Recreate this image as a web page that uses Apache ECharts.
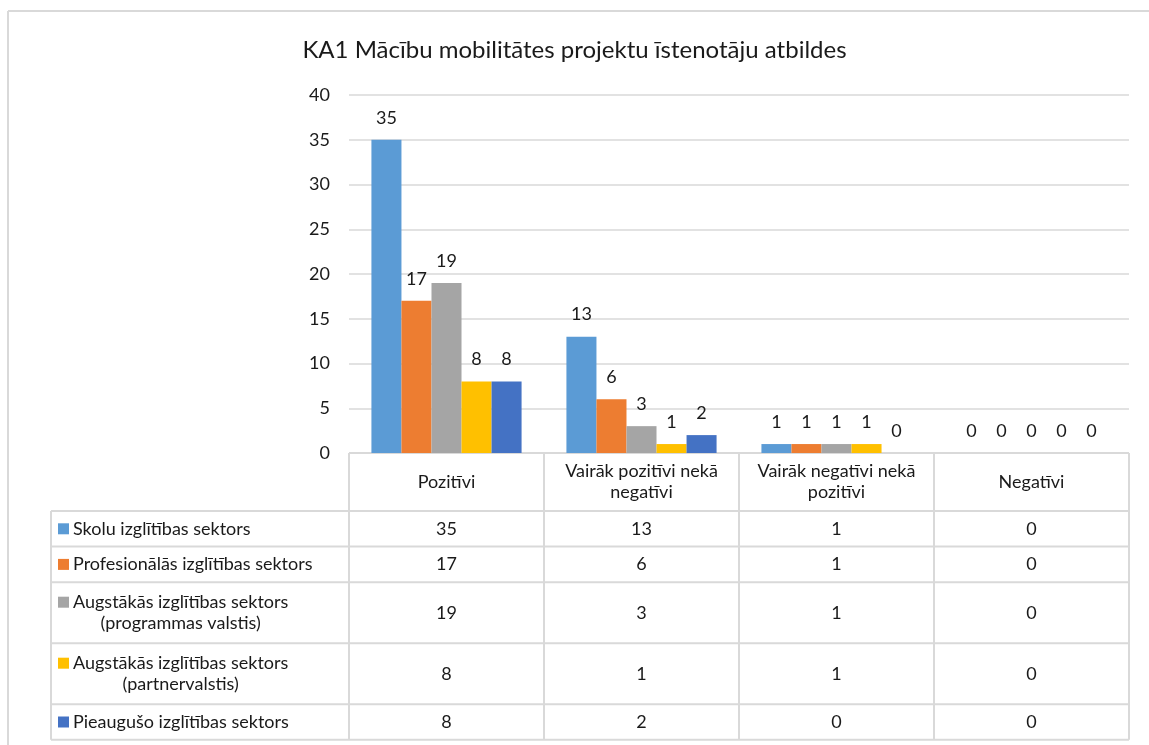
<!DOCTYPE html>
<html>
<head>
<meta charset="utf-8">
<script src="https://cdn.jsdelivr.net/npm/echarts@6/dist/echarts.min.js"></script>
<style>
  html, body { margin: 0; padding: 0; background: #fff; }
  #chart { width: 1149px; height: 745px; }
</style>
</head>
<body>
<div id="chart"></div>
<script>
// data
var categories = ['Pozitīvi', 'Vairāk pozitīvi nekā\nnegatīvi', 'Vairāk negatīvi nekā\npozitīvi', 'Negatīvi'];
var seriesNames = [
  'Skolu izglītības sektors',
  'Profesionālās izglītības sektors',
  'Augstākās izglītības sektors\n(programmas valstis)',
  'Augstākās izglītības sektors\n(partnervalstis)',
  'Pieaugušo izglītības sektors'
];
var skolu = [35, 13, 1, 0];
var profesionalas = [17, 6, 1, 0];
var augstProgr = [19, 3, 1, 0];
var augstPartner = [8, 1, 1, 0];
var pieauguso = [8, 2, 0, 0];
var yTicks = [0, 5, 10, 15, 20, 25, 30, 35, 40];

var colors = ['#5B9BD5', '#ED7D31', '#A5A5A5', '#FFC000', '#4472C4'];
var values = [skolu, profesionalas, augstProgr, augstPartner, pieauguso];

var FONT = 'Lato, "Liberation Sans", sans-serif';
var FS = 18;
var TXT = '#1a1a1a';
var LINE = '#d9d9d9';

// layout
var plotLeft = 349, plotRight = 1129, plotTop = 95, axisY = 453;
var headerBottom = 511, tableLeft = 51;
var rowHeights = seriesNames.map(function (n) { return n.indexOf('\n') >= 0 ? 61 : 35.6; });

var chart = echarts.init(document.getElementById('chart'));

var ctx = document.createElement('canvas').getContext('2d');
ctx.font = FS + 'px ' + FONT;

var graphics = [];
function hline(x1, x2, y) {
  graphics.push({ type: 'line', shape: { x1: x1, y1: y, x2: x2, y2: y }, style: { stroke: LINE, lineWidth: 2 }, silent: true });
}
function vline(x, y1, y2) {
  graphics.push({ type: 'line', shape: { x1: x, y1: y1, x2: x, y2: y2 }, style: { stroke: LINE, lineWidth: 2 }, silent: true });
}

// outer chart border
hline(8, 1149, 11);
vline(8, 11, 745);

var colW = (plotRight - plotLeft) / categories.length;
var rowTops = [headerBottom];
rowHeights.forEach(function (h, i) { rowTops.push(rowTops[i] + h); });
var tableBottom = rowTops[rowTops.length - 1];

hline(plotLeft, plotRight, axisY);
for (var c = 0; c <= categories.length; c++) {
  vline(plotLeft + c * colW, axisY, tableBottom);
}
rowTops.forEach(function (y) { hline(tableLeft, plotRight, y); });
vline(tableLeft, headerBottom, tableBottom);

// header texts
categories.forEach(function (cat, i) {
  graphics.push({
    type: 'text', silent: true,
    x: plotLeft + (i + 0.5) * colW, y: (axisY + headerBottom) / 2,
    style: { text: cat, font: FS + 'px ' + FONT, fill: TXT, align: 'center', verticalAlign: 'middle', lineHeight: 21 }
  });
});

// row labels + values
seriesNames.forEach(function (name, r) {
  var top = rowTops[r], h = rowHeights[r];
  var cy = top + h / 2;
  var lines = name.split('\n');
  var w = ctx.measureText(lines[0]).width;
  var textX = 73;
  var firstLineY = cy - (lines.length - 1) * 10.5;
  graphics.push({
    type: 'rect', silent: true,
    shape: { x: 58, y: firstLineY - 5.5, width: 11, height: 11 },
    style: { fill: colors[r] }
  });
  graphics.push({
    type: 'text', silent: true,
    x: textX + w / 2, y: cy,
    style: { text: name, font: FS + 'px ' + FONT, fill: TXT, align: 'center', verticalAlign: 'middle', lineHeight: 21 }
  });
  values[r].forEach(function (v, i) {
    graphics.push({
      type: 'text', silent: true,
      x: plotLeft + (i + 0.5) * colW, y: cy,
      style: { text: String(v), font: FS + 'px ' + FONT, fill: TXT, align: 'center', verticalAlign: 'middle' }
    });
  });
});

var option = {
  animation: false,
  color: colors,
  textStyle: { fontFamily: FONT },
  title: {
    text: 'KA1 Mācību mobilitātes projektu īstenotāju atbildes',
    left: 'center', top: 33,
    textStyle: { fontSize: 24, fontWeight: 'normal', color: TXT, fontFamily: FONT }
  },
  grid: { left: plotLeft, right: 1149 - plotRight, top: plotTop, bottom: 745 - axisY },
  xAxis: {
    type: 'category',
    data: categories,
    axisLine: { show: false },
    axisTick: { show: false },
    axisLabel: { show: false }
  },
  yAxis: {
    type: 'value',
    min: yTicks[0], max: yTicks[yTicks.length - 1], interval: yTicks[1] - yTicks[0],
    axisLine: { show: false },
    axisTick: { show: false },
    axisLabel: { fontSize: FS, color: TXT, margin: 19, fontFamily: FONT },
    splitLine: { lineStyle: { color: LINE, width: 1.5 } }
  },
  series: seriesNames.map(function (n, i) {
    return {
      name: n, type: 'bar', data: values[i],
      barGap: '0%', barCategoryGap: '23%',
      label: { show: true, position: 'top', distance: 13, fontSize: FS, color: TXT, fontFamily: FONT }
    };
  }),
  graphic: graphics
};
chart.setOption(option);
</script>
</body>
</html>
